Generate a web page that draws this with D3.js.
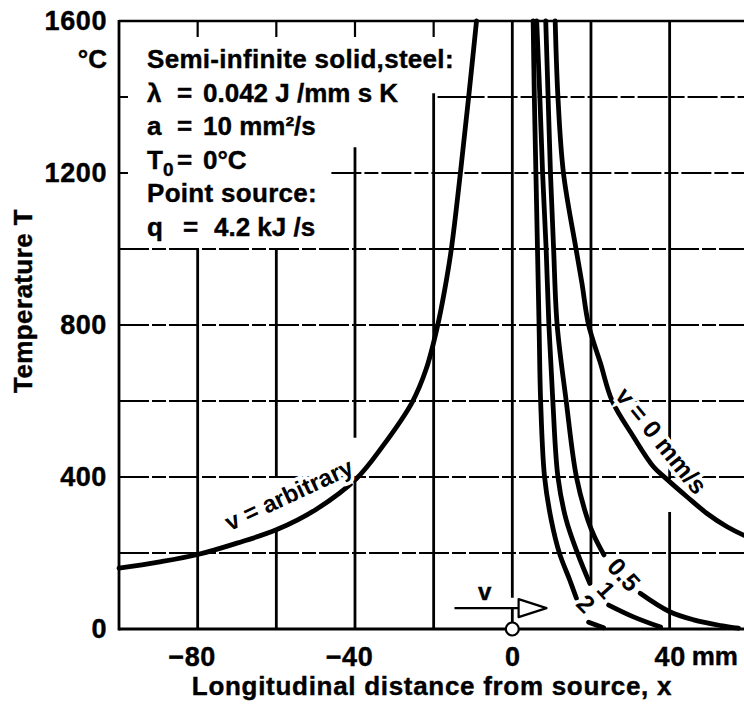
<!DOCTYPE html>
<html>
<head>
<meta charset="utf-8">
<script src="https://cdn.jsdelivr.net/npm/d3@7"></script>
<style>
  body { margin: 0; background: #fff; }
  svg text { font-family: "Liberation Sans", Arial, Helvetica, sans-serif; font-weight: bold; fill: #000;
             stroke: #000; stroke-width: 0.4px; }
  .tick text { font-size: 27px; letter-spacing: 0.6px; }
</style>
</head>
<body>
<svg id="chart" width="744" height="704"></svg>
<script>
// values: x in mm, T in deg C
const xTicks = [-80, -40, 0, 40];
const yTicks = [0, 400, 800, 1200, 1600];

// behind the source, independent of v
const vArbitrary = [[-100,160],[-90,176],[-80,196],[-70,226],[-60,261],[-50,314],
  [-39.8,394],[-32.9,482],[-25.5,596],[-21.9,684],[-19,798],[-17.2,892],[-15.5,1000],[-13.2,1200],
  [-11.1,1400],[-9.1,1600]];

// ahead of the source
const v0 = [[10.9,1600],[11.6,1400],[13.0,1200],[16.2,1000],[17.7,910],[19.4,800],[22.4,700],
  [25.4,600],[30.8,506],[35.9,427],[39.2,395],[44.4,348],[49.5,304],[54.6,269],[58.8,247],[60,242]];
const v05Head = [[8.5,1600],[9.1,1400],[9.7,1200],[10.5,1000],[11.4,800],[13.7,600],[16.3,400],
  [19.2,287],[20.9,243],[23.3,195]];
const v05Tail = [[32.5,94],[39.9,46],[46.1,24],[53,9],[57.5,2]];
const v1Head = [[6.2,1600],[7.0,1400],[7.7,1200],[8.6,1000],[9.3,800],[10.3,600],[11.6,400],
  [13.7,287],[16.6,199],[19.7,120]];
const v1Tail = [[24.5,63],[30.8,32],[37.7,5]];
const v2Head = [[5.3,1600],[5.6,1400],[6.0,1200],[6.4,1000],[6.8,800],[7.2,600],[8.2,400],
  [9.9,287],[12.0,199],[14.6,129],[16.3,81]];
const v2Tail = [[19.4,18],[23.2,3]];

const curves = [vArbitrary, v0, v05Head, v05Tail, v1Head, v1Tail, v2Head, v2Tail];

// grid pieces: vertical [x, Tfrom, Tto], horizontal [T, xfrom, xto]
const vGrid = [[-80,0,1000],[-60,0,262],[-60,400,1000],[-40,0,400],[-40,503,1268],[-20,0,1410],
  [0,0,55],[0,82,1600],[20,120,1600],[40,0,308],[40,395,1600]];
const hGrid = [[200,-100,60],[400,-100,60],[600,-100,60],[800,-100,60],[1000,-100,60],
  [1200,-46,60],[1400,-19,60]];
const topTicks = [-80, -60, -40, -20];
const leftTicks = [1200, 1400];

const boxRows = [
  { lab: "Semi-infinite solid,steel:" },
  { lab: "λ", eq: "=", val: "0.042 J /mm s K" },
  { lab: "a", eq: "=", val: "10 mm²/s" },
  { lab: "T", sub: "0", eq: "=", val: "0°C" },
  { lab: "Point source:" },
  { lab: "q", eq: "=", val: "4.2 kJ /s" }
];

const svg = d3.select("#chart");
const x = d3.scaleLinear().domain([-100, 60]).range([119, 748.3]);
const y = d3.scaleLinear().domain([0, 1600]).range([629, 21]);

// grid
svg.append("g").selectAll("line").data(vGrid).enter().append("line")
  .attr("x1", d => x(d[0])).attr("x2", d => x(d[0]))
  .attr("y1", d => y(d[1])).attr("y2", d => y(d[2]))
  .attr("stroke", "#000").attr("stroke-width", 2.8);
svg.append("g").selectAll("line").data(hGrid).enter().append("line")
  .attr("x1", d => x(d[1])).attr("x2", d => x(d[2]))
  .attr("y1", d => y(d[0])).attr("y2", d => y(d[0]))
  .attr("stroke", "#000").attr("stroke-width", 1.9)
  .attr("stroke-dasharray", "30 3 14 3");

// frame
svg.append("line").attr("x1", x(-100)).attr("x2", x(60)).attr("y1", y(1600)).attr("y2", y(1600))
  .attr("stroke", "#000").attr("stroke-width", 2.4);
svg.append("line").attr("x1", x(-100)).attr("x2", x(60)).attr("y1", y(0)).attr("y2", y(0))
  .attr("stroke", "#000").attr("stroke-width", 3.2);
svg.append("line").attr("x1", x(-100)).attr("x2", x(-100)).attr("y1", y(1600) - 1).attr("y2", y(0) + 1.5)
  .attr("stroke", "#000").attr("stroke-width", 2.8);

// short inner ticks where the grid is hidden by the text box
svg.append("g").selectAll("line").data(topTicks).enter().append("line")
  .attr("x1", d => x(d)).attr("x2", d => x(d)).attr("y1", y(1600)).attr("y2", y(1600) + 16)
  .attr("stroke", "#000").attr("stroke-width", 2.2);
svg.append("g").selectAll("line").data(leftTicks).enter().append("line")
  .attr("x1", x(-100)).attr("x2", x(-100) + 9).attr("y1", d => y(d)).attr("y2", d => y(d))
  .attr("stroke", "#000").attr("stroke-width", 2);

// curves
const line = d3.line().x(d => x(d[0])).y(d => y(d[1])).curve(d3.curveCatmullRom.alpha(0.5));
svg.append("g").selectAll("path").data(curves).enter().append("path")
  .attr("d", line).attr("fill", "none").attr("stroke", "#000")
  .attr("stroke-width", 4.8).attr("stroke-linecap", "round");

// axes (labels only)
const yAxis = svg.append("g").attr("transform", `translate(${x(-100)},0)`)
  .call(d3.axisLeft(y).tickValues(yTicks).tickSize(0).tickPadding(12).tickFormat(d3.format("d")));
yAxis.select(".domain").remove();
yAxis.attr("font-family", null).attr("font-size", null);

const xAxis = svg.append("g").attr("transform", `translate(0,${y(0)})`)
  .call(d3.axisBottom(x).tickValues(xTicks).tickSize(0).tickPadding(18)
    .tickFormat(d => d < 0 ? "\u2212" + Math.abs(d) : d));
xAxis.select(".domain").remove();
xAxis.attr("font-family", null).attr("font-size", null);
xAxis.selectAll(".tick text").attr("dx", d => d < 0 ? -6 : 0);

svg.append("text").attr("x", 107).attr("y", 59).attr("text-anchor", "end")
  .attr("dominant-baseline", "central").style("font-size", "26px").text("°C");
svg.append("text").attr("x", x(40) + 22).attr("y", y(0) + 18).attr("dy", "0.71em")
  .style("font-size", "26px").text("mm");

svg.append("text").attr("x", 432).attr("y", 695).attr("text-anchor", "middle")
  .style("font-size", "26px").style("letter-spacing", "0.7px")
  .text("Longitudinal distance from source, x");
svg.append("text").attr("transform", "translate(32,301) rotate(-90)").attr("text-anchor", "middle")
  .style("font-size", "26px").style("letter-spacing", "0.4px").text("Temperature T");

// parameter box
const rows = svg.append("g").selectAll("text").data(boxRows).enter().append("text")
  .attr("y", (d, i) => 68 + i * 33.5).style("font-size", "26px");
rows.append("tspan").attr("x", 147).text(d => d.lab)
  .style("letter-spacing", d => d.eq ? null : "0.3px");
rows.filter(d => d.sub).append("tspan").attr("dy", 7).style("font-size", "19px").text(d => d.sub);
rows.filter(d => d.eq).append("tspan").attr("x", d => d.lab === "q" ? 183 : 177)
  .attr("dy", d => d.sub ? -7 : 0).text(d => d.eq);
rows.filter(d => d.eq).append("tspan").attr("x", d => d.lab === "q" ? 214 : 203).text(d => d.val);

// curve labels, with a white halo that breaks the lines under them
const labels = [
  { t: "v = arbitrary", at: [-55.9, 334], rot: -25, size: 24 },
  { t: "v = 0 mm/s", at: [36.2, 481], rot: 51, size: 25 },
  { t: "0.5", at: [26.7, 128], rot: 48, size: 25 },
  { t: "1", at: [22.3, 88], rot: 48, size: 24 },
  { t: "2", at: [17.1, 50], rot: 45, size: 25 }
];
svg.append("g").selectAll("text").data(labels).enter().append("text")
  .attr("transform", d => `translate(${x(d.at[0])},${y(d.at[1])}) rotate(${d.rot})`)
  .attr("text-anchor", "middle").style("font-size", d => d.size + "px")
  .style("stroke", "#fff").style("stroke-width", "7px").style("paint-order", "stroke")
  .text(d => d.t);

// moving-source arrow and source mark
const arrowT = 55, arrowFrom = -14.7, arrowTo = 8.7, arrowTip = 1.6;
svg.append("line").attr("x1", x(arrowFrom)).attr("x2", x(arrowTip)).attr("y1", y(arrowT)).attr("y2", y(arrowT))
  .attr("stroke", "#000").attr("stroke-width", 2.4);
svg.append("path")
  .attr("d", `M${x(arrowTip)},${y(arrowT) - 9}L${x(arrowTo)},${y(arrowT)}L${x(arrowTip)},${y(arrowT) + 9}Z`)
  .attr("fill", "#fff").attr("stroke", "#000").attr("stroke-width", 2.2).attr("stroke-linejoin", "round");
svg.append("text").attr("x", x(-7)).attr("y", y(76)).attr("text-anchor", "middle")
  .style("font-size", "24px").text("v");
svg.append("circle").attr("cx", x(0)).attr("cy", y(0)).attr("r", 6.5)
  .attr("fill", "#fff").attr("stroke", "#000").attr("stroke-width", 2.2);
</script>
</body>
</html>
